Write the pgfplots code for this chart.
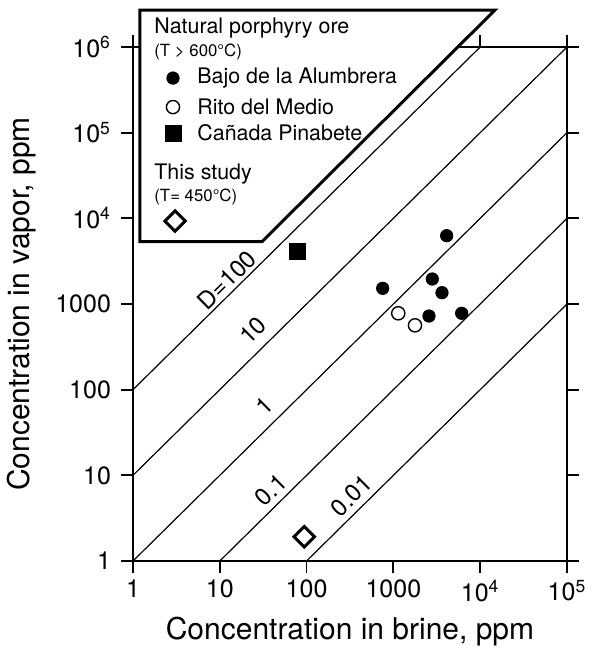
\documentclass[border=0pt]{standalone}
\usepackage{fontspec}
\setmainfont{TeX Gyre Heros}
\usepackage{pgfplots}
\pgfplotsset{compat=1.18}

\begin{document}
\begin{tikzpicture}
\begin{axis}[
  scale only axis, width=217pt, height=257pt,
  xmode=log, ymode=log,
  xmin=1, xmax=100000, ymin=1, ymax=1000000,
  xtick={1,10,100,1000,10000,100000},
  xticklabels={1,10,100,1000,10\textsuperscript{4},10\textsuperscript{5}},
  ytick={1,10,100,1000,10000,100000,1000000},
  yticklabels={1,10,100,1000,10\textsuperscript{4},10\textsuperscript{5},10\textsuperscript{6}},
  xminorticks=false, yminorticks=false,
  tick align=outside, major tick length=6pt,
  tick style={black, line width=0.9pt},
  axis line style={line width=1.2pt},
  tick label style={font=\fontsize{12.5}{14}\selectfont},
  yticklabel style={xshift=-1.5pt},
  label style={font=\fontsize{15}{18}\selectfont},
  xlabel={Concentration in brine, ppm},
  ylabel={Concentration in vapor, ppm},
  xlabel style={at={(axis description cs:0.5,-0.138)}, anchor=center},
  ylabel style={at={(axis description cs:-0.256,0.5)}, anchor=center},
  clip=false,
]
  % iso-D lines
  \addplot[black, line width=0.6pt] coordinates {(1,100) (10000,1000000)};
  \addplot[black, line width=0.6pt] coordinates {(1,10) (100000,1000000)};
  \addplot[black, line width=0.6pt] coordinates {(1,1) (100000,100000)};
  \addplot[black, line width=0.6pt] coordinates {(10,1) (100000,10000)};
  \addplot[black, line width=0.6pt] coordinates {(100,1) (100000,1000)};

  \begin{scope}[font=\fontsize{12}{14}\selectfont]
    \node[rotate=44.6] at (rel axis cs:0.216,0.547) {D=100};
    \node[rotate=44.6] at (rel axis cs:0.2765,0.449) {10};
    \node[rotate=44.6] at (rel axis cs:0.302,0.3016) {1};
    \node[rotate=44.6] at (rel axis cs:0.318,0.138) {0.1};
    \node[rotate=44.6] at (rel axis cs:0.503,0.127) {0.01};
  \end{scope}

  % Bajo de la Alumbrera
  \addplot[only marks, mark=*, mark size=3.1pt, black] coordinates {
    (4110,6270) (753,1524) (2806,1958) (3630,1355) (2570,724) (6120,779)};
  % Rito del Medio
  \addplot[only marks, mark=o, mark size=3.3pt, black, line width=0.7pt] coordinates {
    (1138,779) (1774,564)};
  % Canada Pinabete
  \addplot[only marks, mark=square*, mark size=4pt, black] coordinates {(78,4075)};
  % this study
  \addplot[only marks, mark=square, mark size=3.6pt, black,
    mark options={rotate=45, line width=1.5pt, fill=white}] coordinates {(94,1.92)};

  % legend box
  \draw[line width=1.5pt, fill=white] (axis cs:1.204,2.7e6) -- (axis cs:14800,2.7e6)
    -- (axis cs:30.6,5335) -- (axis cs:1.204,5335) -- cycle;
  \begin{scope}[font=\fontsize{10.7}{13}\selectfont]
    \node[anchor=west, inner sep=0pt] at (rel axis cs:0.0484,1.037) {Natural porphyry ore};
    \node[anchor=west, inner sep=0pt, font=\fontsize{8.4}{10}\selectfont] at (rel axis cs:0.0484,0.990) {(T > 600°C)};
    \node[anchor=west, inner sep=0pt] at (rel axis cs:0.1475,0.940) {Bajo de la Alumbrera};
    \node[anchor=west, inner sep=0pt] at (rel axis cs:0.1475,0.883) {Rito del Medio};
    \node[anchor=west, inner sep=0pt] at (rel axis cs:0.1475,0.833) {Cañada Pinabete};
    \node[anchor=west, inner sep=0pt] at (rel axis cs:0.0484,0.753) {This study};
    \node[anchor=west, inner sep=0pt, font=\fontsize{8.4}{10}\selectfont] at (rel axis cs:0.0484,0.708) {(T= 450°C)};
  \end{scope}
  \addplot[only marks, mark=*, mark size=3.1pt, black] coordinates {(2.89,434000)};
  \addplot[only marks, mark=o, mark size=3.3pt, black, line width=0.7pt] coordinates {(2.89,199000)};
  \addplot[only marks, mark=square*, mark size=4pt, black] coordinates {(2.89,99100)};
  \addplot[only marks, mark=square, mark size=3.6pt, black,
    mark options={rotate=45, line width=1.5pt, fill=white}] coordinates {(3.05,9300)};
\end{axis}
\pgfresetboundingbox
\path[use as bounding box] ([shift={(-66.5pt,-47pt)}]current axis.south west)
  rectangle ([shift={(232.5pt,280.5pt)}]current axis.south west);
\end{tikzpicture}
\end{document}
